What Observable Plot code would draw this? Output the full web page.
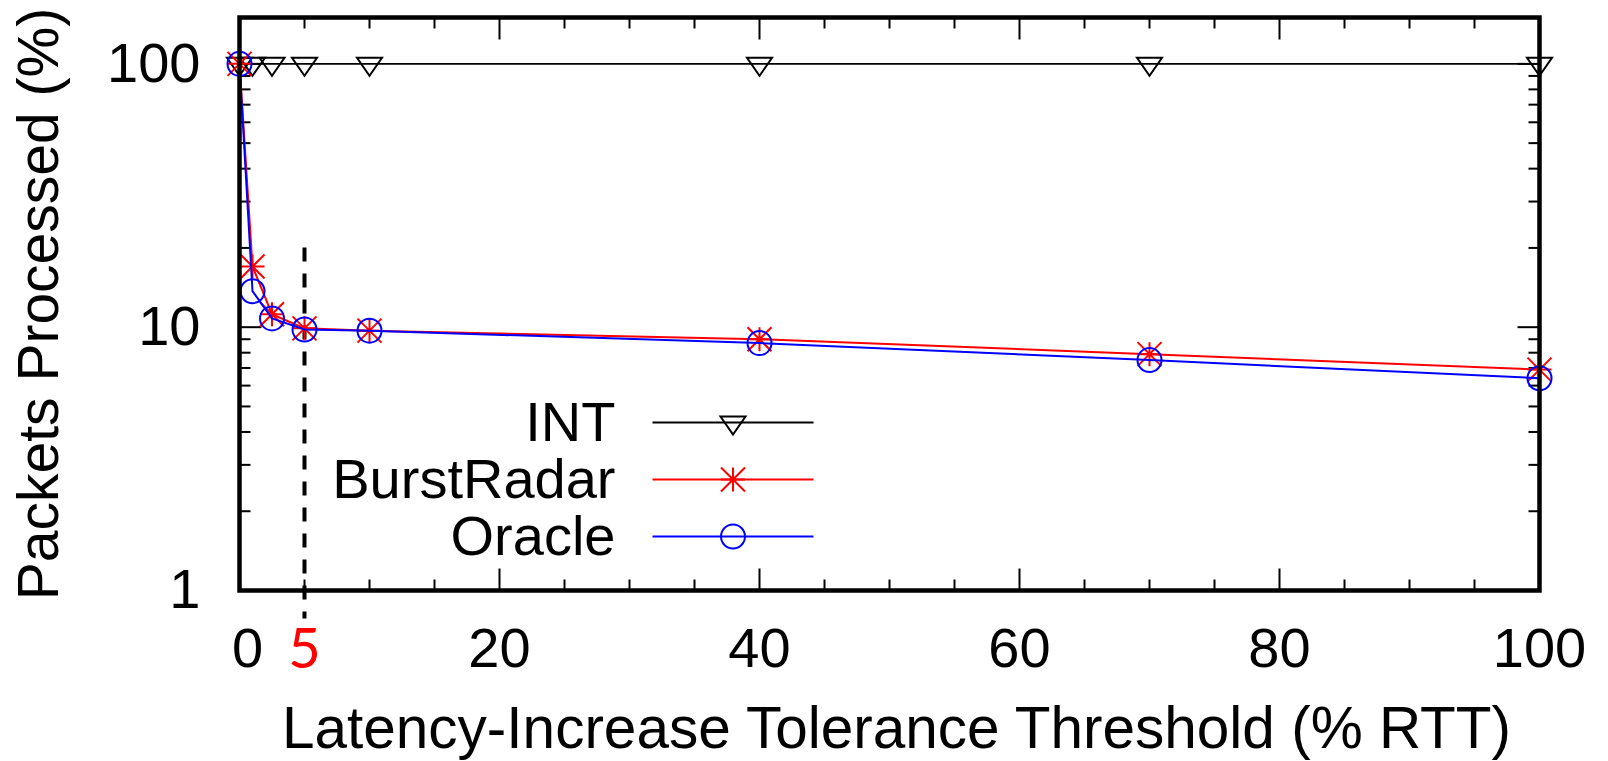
<!DOCTYPE html>
<html><head><meta charset="utf-8">
<script src="https://cdn.jsdelivr.net/npm/d3@7"></script>
<script src="https://cdn.jsdelivr.net/npm/@observablehq/plot@0.6"></script>
<style>body{margin:0;background:#fff} svg{display:block}</style>
</head><body><div id="chart"></div>
<script>
// ---- data ----
const thresholds = [0, 1, 2.5, 5, 10, 40, 70, 100];
const intValues = [100, 100, 100, 100, 100, 100, 100, 100];
const burstRadarValues = [100, 17, 11.2, 9.9, 9.7, 9.0, 7.9, 6.9];
const oracleValues = [100, 13.7, 10.8, 9.8, 9.7, 8.7, 7.5, 6.4];
const seriesNames = ["INT", "BurstRadar", "Oracle"];
const xTickLabels = [0, 20, 40, 60, 80, 100];
const xMinorTicks = [5, 10, 15, 25, 30, 35, 45, 50, 55, 65, 70, 75, 85, 90, 95];
const yTickLabels = [1, 10, 100];
const yMinorTicks = [2, 3, 4, 5, 6, 7, 8, 9, 20, 30, 40, 50, 60, 70, 80, 90];
const highlightX = 5;
const highlightRange = [20, 0.78];
const xTitle = "Latency-Increase Tolerance Threshold (% RTT)";
const yTitle = "Packets Processed (%)";

// ---- styles ----
const colors = {INT: "#000000", BurstRadar: "#ff0000", Oracle: "#0000ff"};
const FONT = "'Liberation Sans', Arial, Helvetica, sans-serif";

const seriesValues = {INT: intValues, BurstRadar: burstRadarValues, Oracle: oracleValues};

// custom symbols
const seg = (dx, dy) => ({draw(ctx) { ctx.moveTo(0, 0); ctx.lineTo(dx, dy); }});
const hline = (h) => ({draw(ctx) { ctx.moveTo(-h, 0); ctx.lineTo(h, 0); }});
const triDown = {draw(ctx) { ctx.moveTo(-12.5, -6); ctx.lineTo(12.5, -6); ctx.lineTo(0, 12); ctx.closePath(); }};
const star8 = {draw(ctx) {
  const s = 12;
  ctx.moveTo(-s, 0); ctx.lineTo(s, 0);
  ctx.moveTo(0, -s); ctx.lineTo(0, s);
  ctx.moveTo(-s, -s); ctx.lineTo(s, s);
  ctx.moveTo(-s, s); ctx.lineTo(s, -s);
}};
const circ = {draw(ctx) { ctx.moveTo(12, 0); ctx.arc(0, 0, 12, 0, 2 * Math.PI); }};
const symbols = {INT: triDown, BurstRadar: star8, Oracle: circ};

const MAJ = 22, MIN = 11;
const tickMarks = [];
const tickStyle = {fill: "none", stroke: "#000", strokeWidth: 2};
tickMarks.push(Plot.dot(xTickLabels, {x: d => d, frameAnchor: "bottom", symbol: seg(0, -MAJ), ...tickStyle}));
tickMarks.push(Plot.dot(xMinorTicks, {x: d => d, frameAnchor: "bottom", symbol: seg(0, -MIN), ...tickStyle}));
tickMarks.push(Plot.dot(xTickLabels, {x: d => d, frameAnchor: "top", symbol: seg(0, MAJ), ...tickStyle}));
tickMarks.push(Plot.dot(xMinorTicks, {x: d => d, frameAnchor: "top", symbol: seg(0, MIN), ...tickStyle}));
tickMarks.push(Plot.dot(yTickLabels, {y: d => d, frameAnchor: "left", symbol: seg(MAJ, 0), ...tickStyle}));
tickMarks.push(Plot.dot(yMinorTicks, {y: d => d, frameAnchor: "left", symbol: seg(MIN, 0), ...tickStyle}));
tickMarks.push(Plot.dot(yTickLabels, {y: d => d, frameAnchor: "right", symbol: seg(-MAJ, 0), ...tickStyle}));
tickMarks.push(Plot.dot(yMinorTicks, {y: d => d, frameAnchor: "right", symbol: seg(-MIN, 0), ...tickStyle}));

const seriesMarks = [];
for (const name of seriesNames) {
  const vals = seriesValues[name];
  const rows = thresholds.map((x, i) => ({x, y: vals[i]}));
  seriesMarks.push(Plot.line(rows, {x: "x", y: "y", stroke: colors[name], strokeWidth: name === "INT" ? 1.8 : 2}));
  seriesMarks.push(Plot.dot(rows, {x: "x", y: "y", symbol: symbols[name], fill: "none", stroke: colors[name], strokeWidth: 2}));
}

// legend (positioned inside frame)
const legendMarks = [];
const legendRowDy = [405, 462, 519];
legendMarks.push(Plot.text([seriesNames.join("\n")], {
  frameAnchor: "top-left", dx: 376, dy: 462, textAnchor: "end", lineAnchor: "middle",
  lineHeight: 1.02, fontSize: 56, fontFamily: FONT, fill: "#000"
}));
seriesNames.forEach((name, i) => {
  legendMarks.push(Plot.dot([name], {frameAnchor: "top-left", dx: 493.5, dy: legendRowDy[i], symbol: hline(80.5), fill: "none", stroke: colors[name], strokeWidth: name === "INT" ? 1.8 : 2}));
  legendMarks.push(Plot.dot([name], {frameAnchor: "top-left", dx: 493.5, dy: legendRowDy[i], symbol: symbols[name], fill: "none", stroke: colors[name], strokeWidth: 2}));
});

const TICKFS = 56;
const chart = Plot.plot({
  width: 1608,
  height: 761,
  marginTop: 17,
  marginBottom: 171,
  marginLeft: 239,
  marginRight: 69,
  style: {fontFamily: FONT, background: "#fff", color: "#000"},
  x: {domain: [0, 100]},
  y: {type: "log", domain: [1, 150]},
  marks: [
    ...tickMarks,
    Plot.ruleX([highlightX], {x: d => d, y1: highlightRange[0], y2: highlightRange[1], stroke: "#000", strokeWidth: 4, strokeDasharray: "14,12"}),
    ...seriesMarks,
    Plot.frame({stroke: "#000", strokeWidth: 4.5}),
    Plot.axisX(xTickLabels.filter(d => d !== 0), {anchor: "bottom", tickSize: 0, tickPadding: 37, fontSize: TICKFS, fontFamily: FONT, label: null, tickFormat: d => String(d)}),
    Plot.axisX([0], {anchor: "bottom", tickSize: 0, tickPadding: 37, fontSize: TICKFS, fontFamily: FONT, label: null, dx: 8, tickFormat: d => String(d)}),
    Plot.axisY(yTickLabels, {anchor: "left", tickSize: 0, tickPadding: 39, fontSize: TICKFS, fontFamily: FONT, label: null, tickFormat: d => String(d)}),
    Plot.text([highlightX], {x: d => d, text: d => String(d), frameAnchor: "bottom", dy: 77, lineAnchor: "bottom", fill: "#ff0000", fontSize: 56, fontFamily: "Lato, 'Open Sans', sans-serif"}),
    Plot.text([xTitle], {frameAnchor: "bottom", dx: 7, dy: 157, textAnchor: "middle", lineAnchor: "bottom", fontSize: 58.5, fontFamily: FONT, fill: "#000"}),
    Plot.text([yTitle], {frameAnchor: "left", dx: -200, rotate: -90, textAnchor: "middle", lineAnchor: "middle", fontSize: 57, fontFamily: FONT, fill: "#000"}),
    ...legendMarks
  ]
});
document.getElementById("chart").append(chart);
</script>
</body></html>
